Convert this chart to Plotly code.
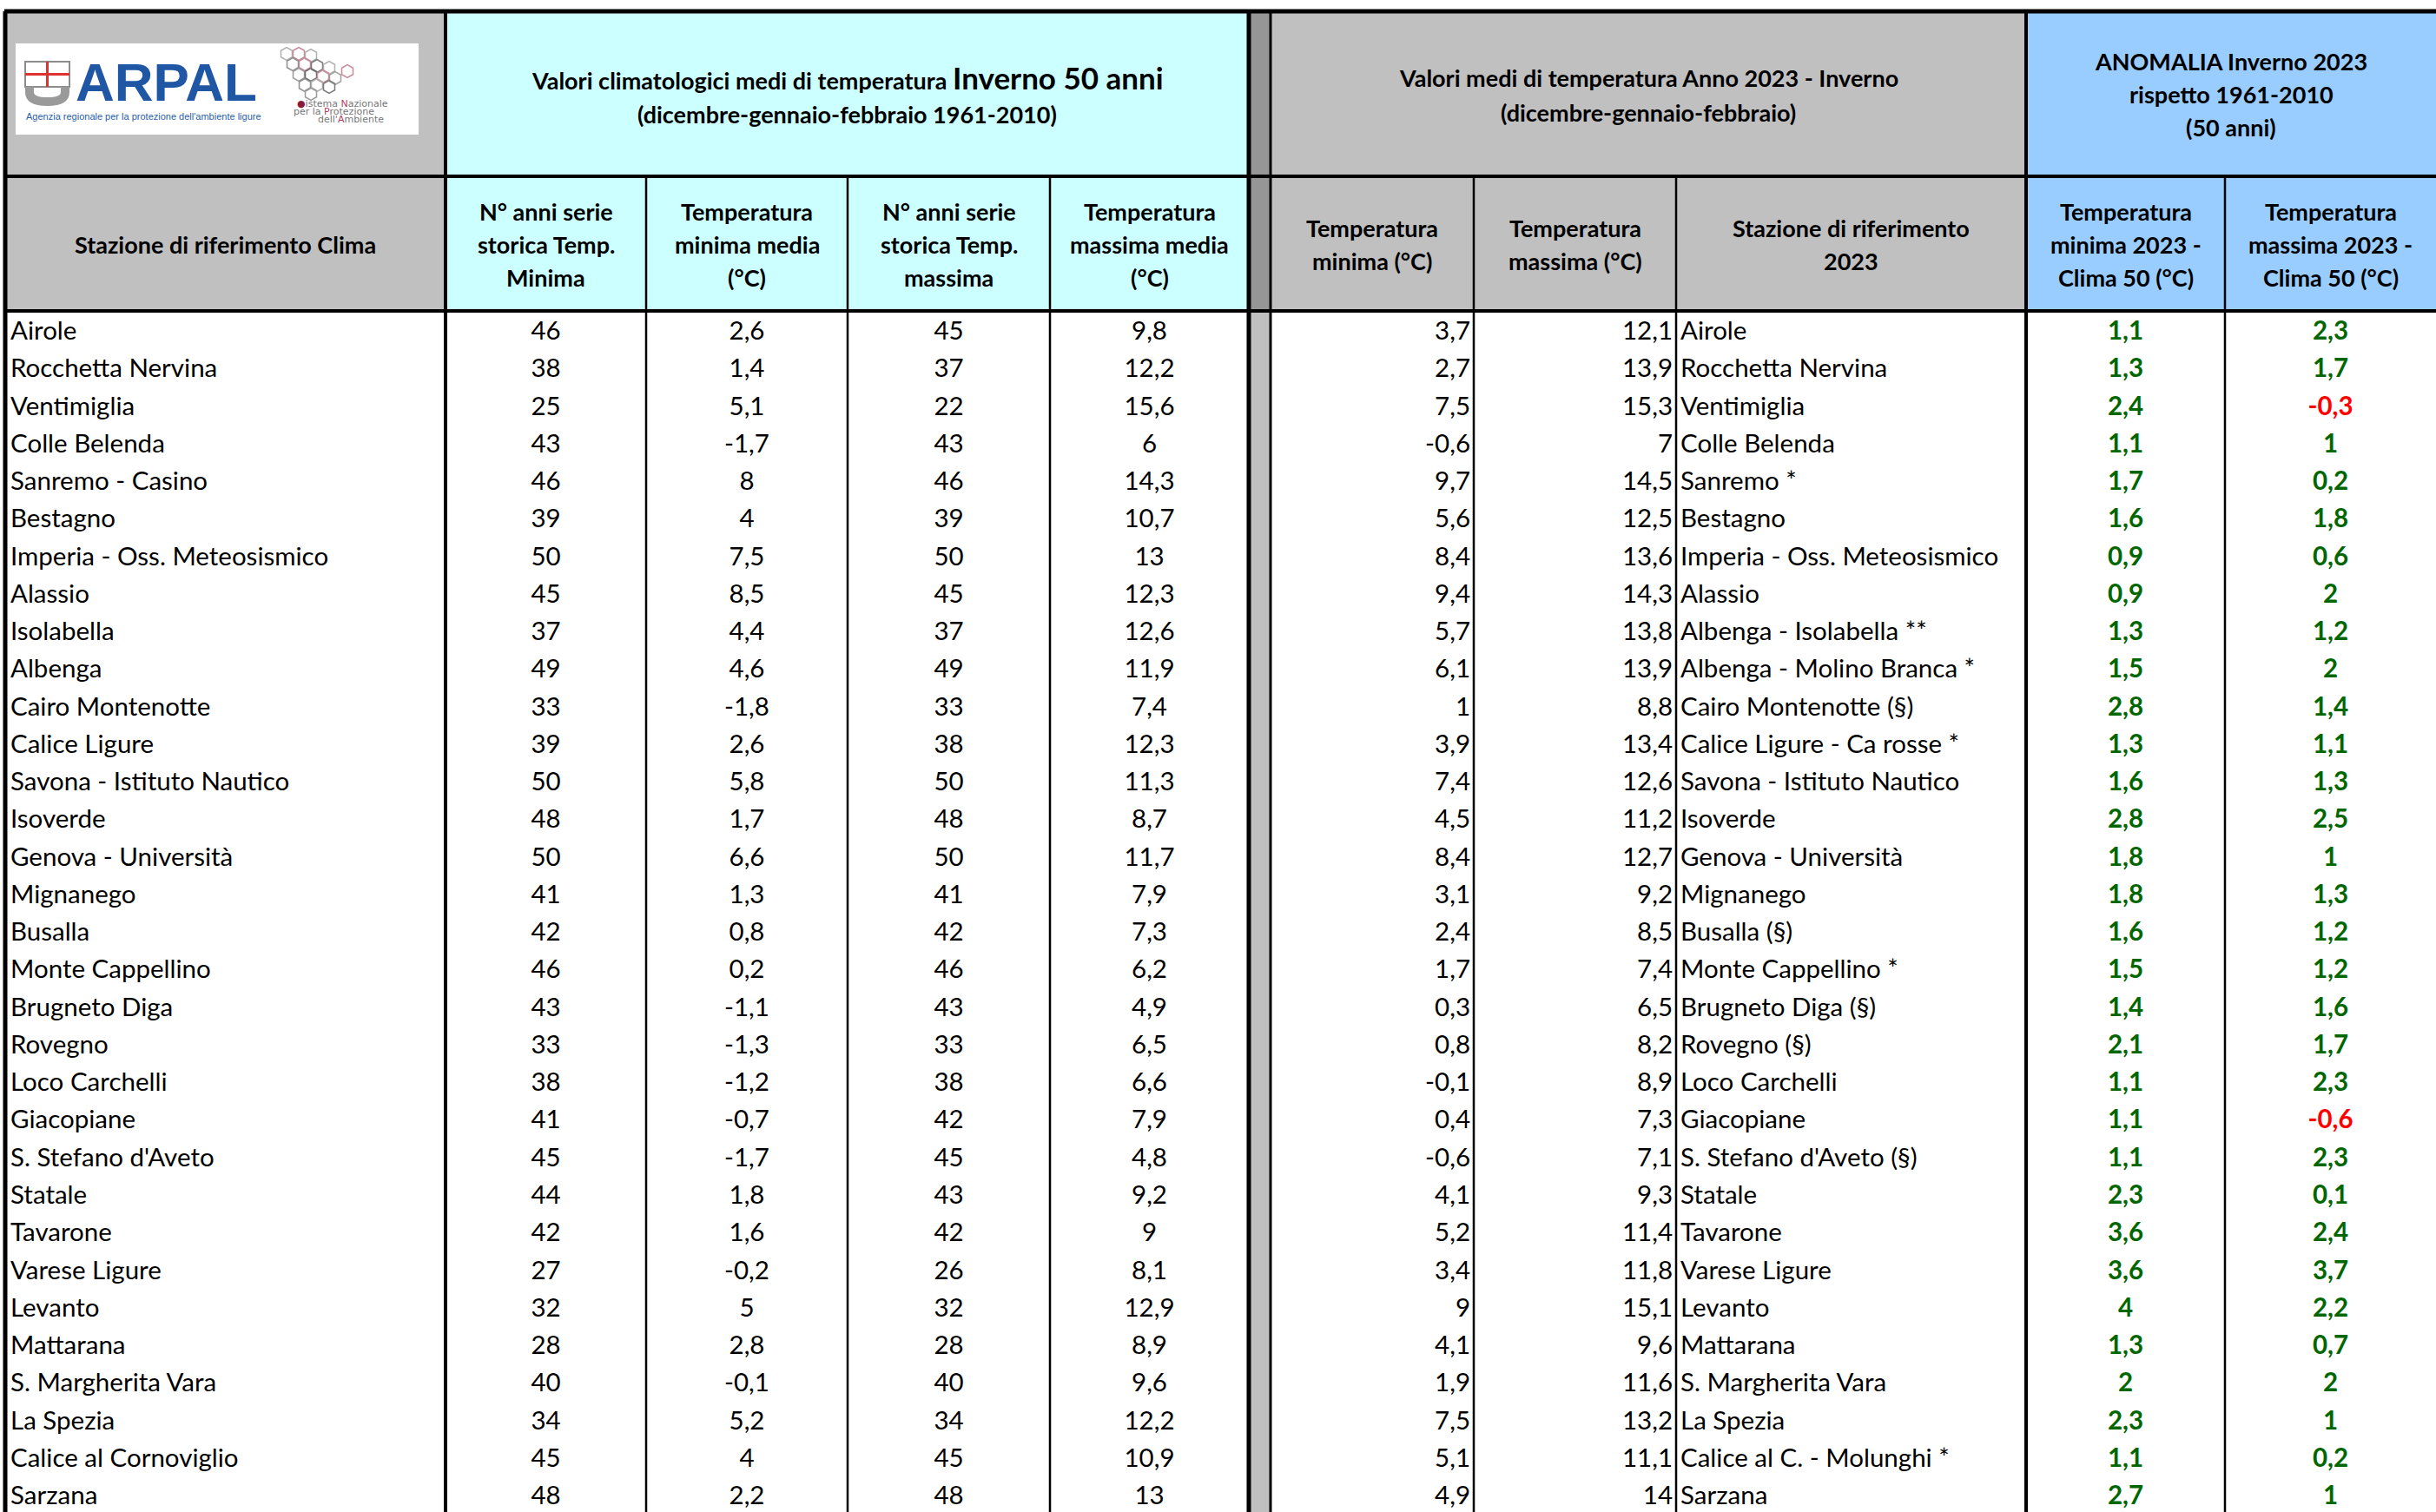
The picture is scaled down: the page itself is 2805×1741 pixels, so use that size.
import plotly.graph_objects as go

# ---------------- DATA ----------------
stations_clima = ["Airole", "Rocchetta Nervina", "Ventimiglia", "Colle Belenda", "Sanremo - Casino",
                  "Bestagno", "Imperia - Oss. Meteosismico", "Alassio", "Isolabella", "Albenga",
                  "Cairo Montenotte", "Calice Ligure", "Savona - Istituto Nautico", "Isoverde",
                  "Genova - Università", "Mignanego", "Busalla", "Monte Cappellino", "Brugneto Diga",
                  "Rovegno", "Loco Carchelli", "Giacopiane", "S. Stefano d'Aveto", "Statale", "Tavarone",
                  "Varese Ligure", "Levanto", "Mattarana", "S. Margherita Vara", "La Spezia",
                  "Calice al Cornoviglio", "Sarzana"]
years_min = [46, 38, 25, 43, 46, 39, 50, 45, 37, 49, 33, 39, 50, 48, 50, 41, 42, 46, 43, 33, 38, 41,
             45, 44, 42, 27, 32, 28, 40, 34, 45, 48]
tmin_clima = [2.6, 1.4, 5.1, -1.7, 8, 4, 7.5, 8.5, 4.4, 4.6, -1.8, 2.6, 5.8, 1.7, 6.6, 1.3, 0.8, 0.2,
              -1.1, -1.3, -1.2, -0.7, -1.7, 1.8, 1.6, -0.2, 5, 2.8, -0.1, 5.2, 4, 2.2]
years_max = [45, 37, 22, 43, 46, 39, 50, 45, 37, 49, 33, 38, 50, 48, 50, 41, 42, 46, 43, 33, 38, 42,
             45, 43, 42, 26, 32, 28, 40, 34, 45, 48]
tmax_clima = [9.8, 12.2, 15.6, 6, 14.3, 10.7, 13, 12.3, 12.6, 11.9, 7.4, 12.3, 11.3, 8.7, 11.7, 7.9,
              7.3, 6.2, 4.9, 6.5, 6.6, 7.9, 4.8, 9.2, 9, 8.1, 12.9, 8.9, 9.6, 12.2, 10.9, 13]
tmin_2023 = [3.7, 2.7, 7.5, -0.6, 9.7, 5.6, 8.4, 9.4, 5.7, 6.1, 1, 3.9, 7.4, 4.5, 8.4, 3.1, 2.4, 1.7,
             0.3, 0.8, -0.1, 0.4, -0.6, 4.1, 5.2, 3.4, 9, 4.1, 1.9, 7.5, 5.1, 4.9]
tmax_2023 = [12.1, 13.9, 15.3, 7, 14.5, 12.5, 13.6, 14.3, 13.8, 13.9, 8.8, 13.4, 12.6, 11.2, 12.7, 9.2,
             8.5, 7.4, 6.5, 8.2, 8.9, 7.3, 7.1, 9.3, 11.4, 11.8, 15.1, 9.6, 11.6, 13.2, 11.1, 14]
stations_2023 = ["Airole", "Rocchetta Nervina", "Ventimiglia", "Colle Belenda", "Sanremo *", "Bestagno",
                 "Imperia - Oss. Meteosismico", "Alassio", "Albenga - Isolabella **",
                 "Albenga - Molino Branca *", "Cairo Montenotte (§)", "Calice Ligure - Ca rosse *",
                 "Savona - Istituto Nautico", "Isoverde", "Genova - Università", "Mignanego",
                 "Busalla (§)", "Monte Cappellino *", "Brugneto Diga (§)", "Rovegno (§)", "Loco Carchelli",
                 "Giacopiane", "S. Stefano d'Aveto (§)", "Statale", "Tavarone", "Varese Ligure", "Levanto",
                 "Mattarana", "S. Margherita Vara", "La Spezia", "Calice al C. - Molunghi *", "Sarzana"]
anom_min = [1.1, 1.3, 2.4, 1.1, 1.7, 1.6, 0.9, 0.9, 1.3, 1.5, 2.8, 1.3, 1.6, 2.8, 1.8, 1.8, 1.6, 1.5,
            1.4, 2.1, 1.1, 1.1, 1.1, 2.3, 3.6, 3.6, 4, 1.3, 2, 2.3, 1.1, 2.7]
anom_max = [2.3, 1.7, -0.3, 1, 0.2, 1.8, 0.6, 2, 1.2, 2, 1.4, 1.1, 1.3, 2.5, 1, 1.3, 1.2, 1.2, 1.6,
            1.7, 2.3, -0.6, 2.3, 0.1, 2.4, 3.7, 2.2, 0.7, 2, 1, 0.2, 1]

header_top = {
    "clima": ["Valori climatologici medi di temperatura <span style='font-size:35px'>Inverno 50 anni</span>",
              "(dicembre-gennaio-febbraio 1961-2010)"],
    "anno": ["Valori medi di temperatura Anno 2023 - Inverno", "(dicembre-gennaio-febbraio)"],
    "anom": ["ANOMALIA Inverno 2023", "rispetto 1961-2010", "(50 anni)"],
}
column_headers = [
    ["Stazione di riferimento Clima"],
    ["N° anni serie", "storica Temp.", "Minima"],
    ["Temperatura", "minima media", "(°C)"],
    ["N° anni serie", "storica Temp.", "massima"],
    ["Temperatura", "massima media", "(°C)"],
    None,
    ["Temperatura", "minima (°C)"],
    ["Temperatura", "massima (°C)"],
    ["Stazione di riferimento", "2023"],
    ["Temperatura", "minima 2023 -", "Clima 50 (°C)"],
    ["Temperatura", "massima 2023 -", "Clima 50 (°C)"],
]

# ---------------- LAYOUT GEOMETRY ----------------
W, H = 2805, 1741
X0 = 5
col_widths = [508, 231, 232, 233, 229, 25, 234, 233, 403, 229, 243]
edges = [X0]
for w in col_widths:
    edges.append(edges[-1] + w)
centers = [(edges[i] + edges[i + 1]) / 2 for i in range(len(col_widths))]

Y_TOP, Y_H1, Y_H2 = 13, 203, 358
RH = 43.26
DATA_Y0 = 362
n = len(stations_clima)
row_y = [DATA_Y0 + (i + 0.5) * RH for i in range(n)]


def fmt(v):
    if float(v).is_integer():
        return str(int(v))
    return f"{v:.1f}".replace(".", ",")


DATA_FONT = "Lato"
FS = 29.5
HFS = 27
GREEN, RED = "#006600", "#FF0000"

fig = go.Figure()


def text_col(x, texts, pos, color="black", bold=False):
    t = [f"<b>{s}</b>" if bold else s for s in texts]
    fig.add_trace(go.Scatter(
        x=[x] * len(texts), y=row_y, mode="text", text=t, textposition=pos,
        textfont=dict(family=DATA_FONT, size=FS, color=color),
        hoverinfo="skip", showlegend=False, cliponaxis=False))


text_col(edges[0] + 7, stations_clima, "middle right")
text_col(centers[1], [fmt(v) for v in years_min], "middle center")
text_col(centers[2], [fmt(v) for v in tmin_clima], "middle center")
text_col(centers[3], [fmt(v) for v in years_max], "middle center")
text_col(centers[4], [fmt(v) for v in tmax_clima], "middle center")
text_col(edges[7] - 4, [fmt(v) for v in tmin_2023], "middle left")
text_col(edges[8] - 4, [fmt(v) for v in tmax_2023], "middle left")
text_col(edges[8] + 5, stations_2023, "middle right")
text_col(centers[9], [fmt(v) for v in anom_min], "middle center",
         color=[GREEN if v >= 0 else RED for v in anom_min], bold=True)
text_col(centers[10], [fmt(v) for v in anom_max], "middle center",
         color=[GREEN if v >= 0 else RED for v in anom_max], bold=True)

shapes = []


def rect(x0, x1, y0, y1, fill, layer="below"):
    shapes.append(dict(type="rect", xref="x", yref="y", x0=x0, x1=x1, y0=y0, y1=y1,
                       fillcolor=fill, line=dict(width=0), layer=layer))


def line(x0, y0, x1, y1, w, color="black"):
    shapes.append(dict(type="line", xref="x", yref="y", x0=x0, y0=y0, x1=x1, y1=y1,
                       line=dict(color=color, width=w), layer="above"))


GRAY, CYAN, SEPG, BLUE = "#C0C0C0", "#CCFFFF", "#969696", "#99CCFF"
XR = W + 20
YB = H + 20
# header backgrounds
rect(edges[0], edges[1], Y_TOP, Y_H2, GRAY)
rect(edges[1], edges[5], Y_TOP, Y_H2, CYAN)
rect(edges[5], edges[6], Y_TOP, Y_H2, SEPG)
rect(edges[6], edges[9], Y_TOP, Y_H2, GRAY)
rect(edges[9], XR, Y_TOP, Y_H2, BLUE)
# separator band in data area
rect(edges[5], edges[6], Y_H2, YB, GRAY)
# logo background
rect(18, 482, 50, 155, "white")

# horizontal borders
line(edges[0], Y_TOP, XR, Y_TOP, 5)
line(edges[0], Y_H1, XR, Y_H1, 4)
line(edges[0], Y_H2, XR, Y_H2, 4)
# vertical borders: full height (thick) and from header-row-2 (thin)
line(edges[0] + 1, Y_TOP, edges[0] + 1, YB, 5)
for i, w in [(1, 4), (5, 5), (6, 3), (9, 4)]:
    line(edges[i], Y_TOP, edges[i], YB, w)
for i in [2, 3, 4, 7, 8, 10]:
    line(edges[i], Y_H1, edges[i], YB, 2.5)

# ARPAL shield (logo approximation)
shapes.append(dict(type="rect", xref="x", yref="y", x0=29, x1=80, y0=71, y1=100,
                   fillcolor="white", line=dict(color="#8C8C8C", width=2), layer="above"))
line(54.5, 71, 54.5, 100, 3, "#E03030")
line(29, 85.5, 80, 85.5, 3, "#E03030")
shapes.append(dict(type="path", xref="x", yref="y",
                   path="M 29 100 L 29 106 Q 29 122 54.5 122 Q 80 122 80 106 L 80 100 L 70 100 "
                        "L 70 106 Q 70 112 54.5 112 Q 39 112 39 106 L 39 100 Z",
                   fillcolor="#9A9A9A", line=dict(width=0), layer="above"))
fig.layout.shapes = shapes

annotations = []


def ann(x, y, text, size, color="black", family=DATA_FONT, xanchor="center"):
    annotations.append(dict(x=x, y=y, xref="x", yref="y", text=text, showarrow=False,
                            xanchor=xanchor, yanchor="middle",
                            font=dict(family=family, size=size, color=color)))


def header_block(x, yc, lines, spacing, size):
    k = len(lines)
    for j, s in enumerate(lines):
        ann(x, yc + (j - (k - 1) / 2) * spacing, f"<b>{s}</b>", size)


# top header row
header_block((edges[1] + edges[5]) / 2, 110, header_top["clima"], 42, HFS)
header_block((edges[6] + edges[9]) / 2, 109, header_top["anno"], 40, HFS)
header_block((edges[9] + edges[11]) / 2, 108, header_top["anom"], 38, HFS)
# column headers
for i, hl in enumerate(column_headers):
    if hl:
        header_block(centers[i], 281, hl, 38, HFS)

ann(85, 94, "<b>ARPAL</b>", 62, color="#1F57A5", family="Liberation Sans", xanchor="left")
ann(28, 134, "Agenzia regionale per la protezione dell'ambiente ligure", 11,
    color="#2A5FAA", family="Liberation Sans", xanchor="left")
ann(340, 119, "<span style='color:#8B1A3A'>●</span>istema <span style='color:#B04060'>N</span>azionale", 11,
    color="#777777", family="DejaVu Sans", xanchor="left")
ann(336, 128, "per la <span style='color:#B04060'>P</span>rotezione", 11,
    color="#777777", family="DejaVu Sans", xanchor="left")
ann(364, 137, "dell'<span style='color:#B04060'>A</span>mbiente", 11,
    color="#777777", family="DejaVu Sans", xanchor="left")
# decorative hexagon cluster of SNPA logo
hx = [330, 344, 358, 337, 351, 365, 379, 344, 358, 372, 386, 400, 351, 365, 379, 358]
hy = [62, 62, 64, 74, 74, 76, 78, 86, 86, 88, 90, 82, 98, 98, 100, 108]
hc = ["#B0B0B0", "#C98A9A", "#B0B0B0", "#8E8E8E", "#C98A9A", "#7A7A7A", "#B0B0B0", "#9A9A9A",
      "#6E6E6E", "#C98A9A", "#A0A0A0", "#C98A9A", "#8E8E8E", "#B0B0B0", "#7A7A7A", "#9A9A9A"]
fig.add_trace(go.Scatter(x=hx, y=hy, mode="markers",
                         marker=dict(symbol="hexagon-open", size=15, color=hc, line=dict(width=1.5)),
                         hoverinfo="skip", showlegend=False))

fig.update_layout(
    width=W, height=H, margin=dict(l=0, r=0, t=0, b=0),
    paper_bgcolor="white", plot_bgcolor="white",
    xaxis=dict(range=[0, W], visible=False, fixedrange=True),
    yaxis=dict(range=[H, 0], visible=False, fixedrange=True),
    annotations=annotations,
    showlegend=False,
)

fig.write_html("out.html", config={"displayModeBar": False},
               post_script="document.body.style.margin='0';document.body.style.overflow='hidden';")
